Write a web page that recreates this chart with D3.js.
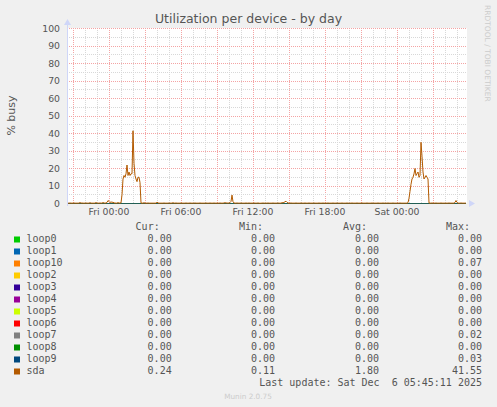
<!DOCTYPE html>
<html>
<head>
<meta charset="utf-8">
<script src="https://cdn.jsdelivr.net/npm/d3@7"></script>
<style>
  html, body { margin: 0; padding: 0; background: #f0f0f0; }
  svg { display: block; }
</style>
</head>
<body>
<div id="root"></div>
<script>
// samples every 5 minutes, starting Thu Dec 4 20:30
const startTime = new Date(2025, 11, 4, 20, 30);
const stepMinutes = 5;

const seriesNames = ["loop0", "loop1", "loop10", "loop2", "loop3", "loop4", "loop5", "loop6", "loop7", "loop8", "loop9", "sda"];
const seriesColors = ["#00CC00", "#0066B3", "#FF8000", "#FFCC00", "#330099", "#990099", "#CCFF00", "#FF0000", "#808080", "#008F00", "#00487D", "#B35A00"];

const curLabels = ["0.00", "0.00", "0.00", "0.00", "0.00", "0.00", "0.00", "0.00", "0.00", "0.00", "0.00", "0.24"];
const minLabels = ["0.00", "0.00", "0.00", "0.00", "0.00", "0.00", "0.00", "0.00", "0.00", "0.00", "0.00", "0.11"];
const avgLabels = ["0.00", "0.00", "0.00", "0.00", "0.00", "0.00", "0.00", "0.00", "0.00", "0.00", "0.00", "1.80"];
const maxLabels = ["0.00", "0.00", "0.07", "0.00", "0.00", "0.00", "0.00", "0.00", "0.02", "0.00", "0.03", "41.55"];

// sda % busy, 20 samples per row (100 minutes)
const sdaValues = [
  0.5, 0.2, 0.2, 0.3, 0.2, 0.2, 0.2, 0.3, 0.2, 0.2, 0.2, 0.2, 0.2, 0.6, 0.2, 0.3, 0.2, 0.2, 0.2, 0.3,
  0.2, 0.2, 0.2, 0.5, 0.2, 0.2, 0.2, 0.2, 0.2, 0.6, 0.2, 0.2, 0.2, 0.3, 0.2, 0.2, 0.6, 0.3, 0.2, 0.3,
  0.6, 1.7, 1.2, 0.5, 1.0, 0.6, 0.8, 0.3, 0.3, 0.2, 0.2, 0.6, 0.2, 0.3, 0.4, 5, 14, 16, 15, 17,
  22, 16, 18, 16, 17, 17, 41.55, 23, 16, 14, 12.5, 15, 15, 12, 0.3, 0.2, 0.2, 0.5, 0.2, 0.2,
  0.2, 0.3, 0.2, 0.2, 0.2, 0.2, 0.2, 0.2, 0.2, 0.2, 0.8, 0.3, 0.2, 0.2, 0.2, 0.2, 0.2, 0.3, 0.2, 0.2,
  0.2, 0.2, 0.3, 0.2, 0.2, 0.2, 0.5, 0.2, 0.2, 0.3, 0.2, 0.2, 0.2, 0.2, 0.3, 0.2, 0.2, 0.2, 0.2, 0.3,
  0.2, 0.2, 0.2, 0.3, 0.2, 0.2, 0.2, 0.2, 0.3, 0.2, 0.2, 0.2, 0.2, 0.3, 0.2, 0.2, 0.2, 0.2, 0.2, 0.3,
  0.2, 0.2, 0.2, 0.3, 0.2, 0.2, 0.2, 0.3, 0.2, 0.2, 0.2, 0.2, 0.2, 0.3, 0.2, 0.2, 0.2, 0.3, 0.5, 0.3,
  0.3, 0.2, 0.3, 0.5, 1.2, 4.8, 1.0, 0.3, 0.2, 0.2, 0.3, 0.2, 0.2, 0.2, 0.3, 0.2, 0.2, 0.2, 0.2, 0.3,
  0.2, 0.2, 0.3, 0.2, 0.2, 0.2, 0.2, 0.3, 0.2, 0.2, 0.2, 0.3, 0.2, 0.11, 0.2, 0.2, 0.3, 0.2, 0.2, 0.2,
  0.2, 0.3, 0.2, 0.2, 0.2, 0.2, 0.3, 0.2, 0.2, 0.2, 0.2, 0.3, 0.2, 0.2, 0.2, 0.5, 0.4, 0.6, 1.0, 1.3,
  0.7, 0.3, 0.2, 0.2, 0.3, 0.2, 0.2, 0.2, 0.2, 0.3, 0.2, 0.2, 0.2, 0.2, 0.3, 0.2, 0.2, 0.2, 0.3, 0.2,
  0.2, 0.2, 0.3, 0.2, 0.2, 0.2, 0.2, 0.3, 0.2, 0.2, 0.2, 0.2, 0.3, 0.2, 0.2, 0.2, 0.3, 0.2, 0.2, 0.2,
  0.2, 0.3, 0.2, 0.2, 0.2, 0.2, 0.3, 0.2, 0.2, 0.2, 0.3, 0.2, 0.2, 0.2, 0.2, 0.3, 0.2, 0.2, 0.2, 0.2,
  0.3, 0.2, 0.2, 0.2, 0.2, 0.3, 0.2, 0.2, 0.2, 0.2, 0.3, 0.2, 0.2, 0.2, 0.2, 0.3, 0.2, 0.2, 0.2, 0.2,
  0.3, 0.2, 0.2, 0.2, 0.2, 0.3, 0.2, 0.2, 0.2, 0.2, 0.2, 0.3, 0.2, 0.2, 0.2, 0.2, 0.3, 0.2, 0.2, 0.2,
  0.2, 0.3, 0.2, 0.2, 0.2, 0.2, 0.3, 0.2, 0.2, 0.2, 0.2, 0.2, 0.2, 0.3, 0.2, 0.2, 0.2, 0.2, 0.2, 0.2,
  0.2, 0.5, 3, 7, 11, 14, 15, 17, 20, 16, 17, 18, 15, 16, 35, 27, 18, 14, 15, 16,
  15, 14, 0.3, 0.2, 0.2, 0.3, 0.2, 0.2, 0.2, 0.3, 0.2, 0.2, 0.2, 0.2, 0.3, 0.2, 0.2, 0.2, 0.2, 0.2,
  0.2, 0.2, 0.3, 0.2, 0.2, 0.2, 0.2, 0.2, 0.6, 1.7, 0.6, 0.2, 0.2, 0.2, 0.3, 0.2, 0.2, 0.2, 0.2, 0.24
];

// the loop devices sit at zero, with a few tiny blips: [sample index, value]
const loopBlips = {
  loop10: [[150, 0.07]],
  loop7: [[260, 0.02]],
  loop9: [[90, 0.03]]
};

const yTicks = [0, 10, 20, 30, 40, 50, 60, 70, 80, 90, 100];
const yMinorTicks = [5, 15, 25, 35, 45, 55, 65, 75, 85, 95];

const width = 497, height = 407;
const plot = { left: 67, right: 467, top: 28, bottom: 203 };
const font = "DejaVu Sans, sans-serif";
const mono = "DejaVu Sans Mono, monospace";
const textColor = "#555";

const nSamples = sdaValues.length;
const endTime = d3.timeMinute.offset(startTime, nSamples * stepMinutes);

const series = seriesNames.map(function (name) {
  let vals;
  if (name === "sda") {
    vals = sdaValues;
  } else {
    vals = new Array(nSamples).fill(0);
    (loopBlips[name] || []).forEach(function (b) { vals[b[0]] = b[1]; });
  }
  return vals.map(function (v, i) {
    return { t: d3.timeMinute.offset(startTime, i * stepMinutes), v: v };
  });
});

const svg = d3.select('#root').append('svg')
  .attr('width', width)
  .attr('height', height)
  .style('background', '#f0f0f0');

const x = d3.scaleTime().domain([startTime, endTime]).range([plot.left, plot.right]);
const y = d3.scaleLinear().domain([0, 100]).range([plot.bottom, plot.top]);

// canvas
svg.append('rect')
  .attr('x', plot.left).attr('y', plot.top)
  .attr('width', plot.right - plot.left).attr('height', plot.bottom - plot.top)
  .attr('fill', '#fff');

// grid: gray every hour / every 5, red every 3 hours / every 10
let grid = svg.append('g').attr('shape-rendering', 'crispEdges');
let hours = d3.timeHour.every(1).range(startTime, endTime);
hours.forEach(function (h) {
  let major = h.getHours() % 3 === 0;
  grid.append('line')
    .attr('x1', Math.round(x(h)) + 0.5).attr('x2', Math.round(x(h)) + 0.5)
    .attr('y1', plot.top).attr('y2', plot.bottom)
    .attr('stroke', major ? '#f4a4a4' : '#d8d8d8')
    .attr('stroke-dasharray', '1,1');
});
yMinorTicks.forEach(function (v) {
  grid.append('line')
    .attr('x1', plot.left).attr('x2', plot.right)
    .attr('y1', Math.round(y(v)) + 0.5).attr('y2', Math.round(y(v)) + 0.5)
    .attr('stroke', '#d8d8d8')
    .attr('stroke-dasharray', '1,1');
});
yTicks.forEach(function (v) {
  grid.append('line')
    .attr('x1', plot.left).attr('x2', plot.right)
    .attr('y1', Math.round(y(v)) + 0.5).attr('y2', Math.round(y(v)) + 0.5)
    .attr('stroke', '#f4a4a4')
    .attr('stroke-dasharray', '1,1');
});

// y labels
svg.append('g').selectAll('text')
  .data(yTicks)
  .enter().append('text')
  .attr('x', 60)
  .attr('y', function (d) { return y(d) + 3.5; })
  .attr('text-anchor', 'end')
  .style('font-family', font).style('font-size', '9.3px')
  .attr('fill', textColor)
  .text(function (d) { return d; });

// x labels
let fmt = d3.timeFormat("%a %H:%M");
svg.append('g').selectAll('text')
  .data(d3.timeHour.every(6).range(startTime, endTime))
  .enter().append('text')
  .attr('x', function (d) { return x(d); })
  .attr('y', 215)
  .attr('text-anchor', 'middle')
  .style('font-family', font).style('font-size', '9.3px')
  .attr('fill', textColor)
  .text(function (d) { return fmt(d); });

// data lines, loops first, sda on top
let line = d3.line()
  .x(function (d) { return x(d.t); })
  .y(function (d) { return y(d.v) + 0.5; });

svg.append('g').selectAll('path')
  .data(series)
  .enter().append('path')
  .attr('d', line)
  .attr('fill', 'none')
  .attr('stroke', function (d, i) { return seriesColors[i]; })
  .attr('stroke-opacity', function (d, i) { return seriesNames[i] === 'sda' ? 1 : 0.55; })
  .attr('stroke-width', 1);

// axis + arrows
svg.append('line')
  .attr('x1', plot.left + 0.5).attr('x2', plot.left + 0.5)
  .attr('y1', plot.top - 3).attr('y2', plot.bottom + 3)
  .attr('stroke', '#cfd6f8');
svg.append('path')
  .attr('d', "M" + (plot.left - 3) + "," + (plot.top - 3) + "L" + (plot.left + 0.5) + "," + (plot.top - 9) + "L" + (plot.left + 4) + "," + (plot.top - 3) + "Z")
  .attr('fill', '#cfd6f8');
svg.append('path')
  .attr('d', "M" + (plot.right + 2) + "," + (plot.bottom - 3) + "L" + (plot.right + 8) + "," + (plot.bottom + 0.5) + "L" + (plot.right + 2) + "," + (plot.bottom + 4) + "Z")
  .attr('fill', '#cfd6f8');

// title
svg.append('text')
  .attr('x', width / 2).attr('y', 23)
  .attr('text-anchor', 'middle')
  .style('font-family', font).style('font-size', '12.5px')
  .attr('fill', textColor)
  .text("Utilization per device - by day");

svg.append('text')
  .attr('transform', 'translate(15,' + ((plot.top + plot.bottom) / 2) + ') rotate(-90)')
  .attr('text-anchor', 'middle')
  .style('font-family', font).style('font-size', '11px')
  .attr('fill', textColor)
  .text("% busy");

svg.append('text')
  .attr('transform', 'translate(485,5) rotate(90)')
  .style('font-family', font).style('font-size', '7.5px')
  .attr('fill', '#ccc')
  .text("RRDTOOL / TOBI OETIKER");

// legend
let legendTop = 242, rowH = 12;
let colEnds = [171.7, 275, 379, 482];
let headers = ["Cur:", "Min:", "Avg:", "Max:"];
let cols = [curLabels, minLabels, avgLabels, maxLabels];

let legend = svg.append('g')
  .style('font-family', mono).style('font-size', '10px')
  .attr('fill', textColor);

headers.forEach(function (h, c) {
  legend.append('text')
    .attr('x', colEnds[c] - 12).attr('y', legendTop - rowH)
    .attr('text-anchor', 'end')
    .text(h);
});

seriesNames.forEach(function (name, r) {
  let yy = legendTop + r * rowH;
  legend.append('rect')
    .attr('x', 14).attr('y', yy - 5.5)
    .attr('width', 6).attr('height', 6)
    .attr('fill', seriesColors[r]);
  legend.append('text')
    .attr('x', 26.5).attr('y', yy)
    .text(name);
  cols.forEach(function (col, c) {
    legend.append('text')
      .attr('x', colEnds[c]).attr('y', yy)
      .attr('text-anchor', 'end')
      .text(col[r]);
  });
});

legend.append('text')
  .attr('x', 482).attr('y', legendTop + seriesNames.length * rowH)
  .attr('text-anchor', 'end')
  .style('white-space', 'pre')
  .attr('xml:space', 'preserve')
  .text("Last update: Sat Dec  6 05:45:11 2025");

svg.append('text')
  .attr('x', 248).attr('y', 399)
  .attr('text-anchor', 'middle')
  .style('font-family', font).style('font-size', '7.3px')
  .attr('fill', '#ccc')
  .text("Munin 2.0.75");
</script>
</body>
</html>
